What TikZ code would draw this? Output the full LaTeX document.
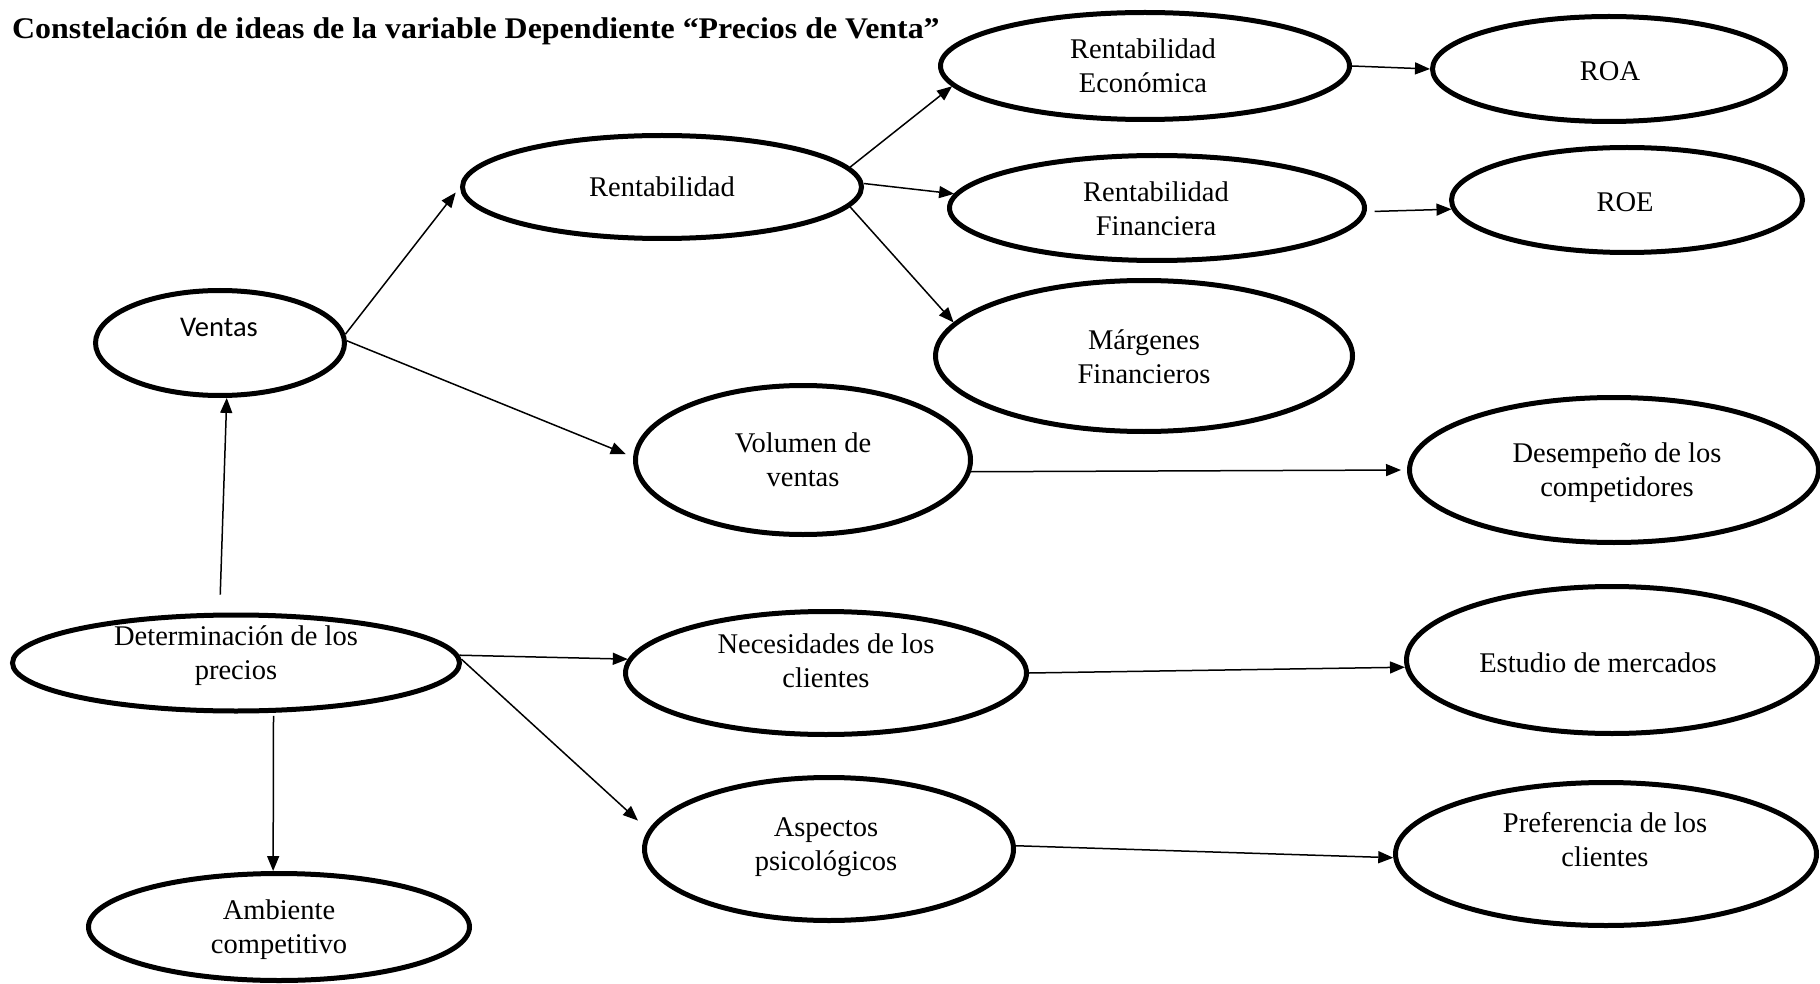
\documentclass[tikz,border=0pt]{standalone}
\usepackage{fontspec}
\usepackage{graphicx}
\setmainfont{Liberation Serif}
\newfontfamily\calib{Carlito}
\usetikzlibrary{shapes.geometric,arrows.meta}

\tikzset{
  oval/.style={ellipse, draw, line width=5pt, inner sep=0pt},
  txt/.style={align=center, inner sep=0pt, font=\fontsize{28.5}{34}\selectfont},
  arr/.style={-{Triangle[length=15pt,width=12pt]}, line width=1.5pt},
}

\begin{document}
\begin{tikzpicture}[x=1pt, y=-1pt]
\useasboundingbox (0,0) rectangle (1820,984);
\clip (0,0) rectangle (1820,984);

% title
\node[anchor=base west, inner sep=0pt] (title) at (12,39)
  {\scalebox{1.063}[1]{\fontsize{30}{36}\selectfont\bfseries Constelación de ideas de la variable Dependiente “Precios de Venta”}};

% ellipses
\node[oval, minimum width=249, minimum height=105] (ventas) at (220,343) {};
\node[oval, minimum width=399, minimum height=103] (rent)   at (662,187) {};
\node[oval, minimum width=409, minimum height=107] (reco)   at (1145,66) {};
\node[oval, minimum width=415, minimum height=105] (rfin)   at (1157,208) {};
\node[oval, minimum width=417, minimum height=151] (marg)   at (1144,356) {};
\node[oval, minimum width=353, minimum height=105] (roa)    at (1609,69) {};
\node[oval, minimum width=351, minimum height=105] (roe)    at (1627,200) {};
\node[oval, minimum width=335, minimum height=149] (vol)    at (803,460) {};
\node[oval, minimum width=409, minimum height=145] (desem)  at (1614,470) {};
\node[oval, minimum width=447, minimum height=96]  (det)    at (236,663) {};
\node[oval, minimum width=381, minimum height=107] (amb)    at (279,927) {};
\node[oval, minimum width=401, minimum height=123] (nec)    at (826,673) {};
\node[oval, minimum width=411, minimum height=147] (est)    at (1612,660) {};
\node[oval, minimum width=369, minimum height=143] (asp)    at (829,849) {};
\node[oval, minimum width=421, minimum height=143] (pref)   at (1606,854) {};

% labels
\node[txt, font=\calib\fontsize{28.5}{34}\selectfont] (ventas-t) at (219,327) {Ventas};
\node[txt] (rent-t)  at (662,187)  {Rentabilidad};
\node[txt] (reco-t)  at (1143,66)  {Rentabilidad\\Económica};
\node[txt] (rfin-t)  at (1156,209) {Rentabilidad\\Financiera};
\node[txt] (marg-t)  at (1144,357) {Márgenes\\Financieros};
\node[txt] (roa-t)   at (1610,71)  {ROA};
\node[txt] (roe-t)   at (1625,202) {ROE};
\node[txt] (vol-t)   at (803,460)  {Volumen de\\ventas};
\node[txt] (desem-t) at (1617,473) {Desempeño de los\\competidores};
\node[txt] (det-t)   at (236,656)  {Determinación de los\\precios};
\node[txt] (amb-t)   at (279,930)  {Ambiente\\competitivo};
\node[txt] (nec-t)   at (826,661)  {Necesidades de los\\clientes};
\node[txt] (est-t)   at (1598,663) {Estudio de mercados};
\node[txt] (asp-t)   at (826,847)  {Aspectos\\psicológicos};
\node[txt] (pref-t)  at (1605,840) {Preferencia de los\\clientes};

% connectors
\draw[arr, shorten >=7pt] (ventas.4) -- (rent.180);
\draw[arr, shorten >=8pt] (ventas.1) -- (vol.179);
\draw[arr] (rent.6) -- (reco.186);
\draw[arr] (rent.1) -- (rfin.176);
\draw[arr] (rent.-6) -- (marg.170);
\draw[arr] (reco.0) -- (roa.180);
\draw[arr, shorten <=8pt] (rfin.-1) -- (roe.183);
\draw[arr, shorten >=6pt] (vol.-4) -- (desem.180);
\draw[arr, shorten <=18pt] (det.108) -- (ventas.-83);
\draw[arr, shorten <=3pt] (det.-53) -- (amb.96);
\draw[arr] (det.2) -- (nec.176);
\draw[arr, shorten >=14pt] (det.1) -- (asp.174);
\draw[arr] (nec.0) -- (est.182);
\draw[arr] (asp.1) -- (pref.181);
\end{tikzpicture}
\end{document}
